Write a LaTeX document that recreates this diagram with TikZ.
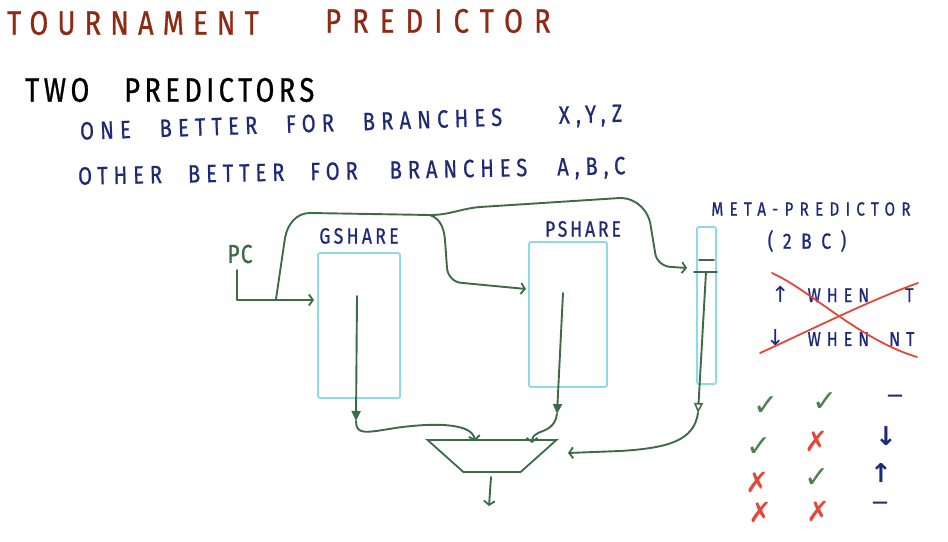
\documentclass[tikz,border=0pt]{standalone}
\usepackage{fontspec}
\usetikzlibrary{arrows.meta,shapes.geometric}
\newfontfamily\hand{Fira Sans}[FakeStretch=0.8,FakeBold=0.8]
\newfontfamily\sym{DejaVu Sans}
\definecolor{titlered}{HTML}{8E2A14}
\definecolor{navy}{HTML}{1E2A78}
\definecolor{wire}{HTML}{3D6B47}
\definecolor{boxcyan}{HTML}{8ADCE8}
\definecolor{crossred}{HTML}{E5463A}
\definecolor{okgreen}{HTML}{4E8050}
\newcommand\hw[3]{\hand\addfontfeatures{LetterSpace=#2}\fontsize{#1}{#1}\selectfont\spaceskip=#3\fontdimen2\font\relax}
\newcommand\symf[1]{\sym\fontsize{#1}{#1}\selectfont}
\begin{document}
\begin{tikzpicture}[x=1pt,y=-1pt,
  txt/.style={inner sep=0pt, anchor=west},
  lbl/.style={inner sep=0pt},
  membox/.style={draw=boxcyan, line width=1.8pt, rounded corners=2pt, inner sep=0pt},
  wireline/.style={draw=wire, line width=1.9pt, line cap=round, line join=round},
  chev/.style={wireline, -{Straight Barb[length=4pt,width=11pt,line width=1.8pt]}},
  fulltip/.style={wireline, -{Triangle[length=10pt,width=9pt]}},
  opentip/.style={wireline, -{Triangle[open,length=10pt,width=9pt,line width=1.5pt]}},
  crossline/.style={draw=crossred, line width=1.8pt, line cap=round},
  ok/.style={lbl, text=okgreen, font=\symf{30}},
  bad/.style={lbl, text=crossred, font=\symf{28}},
  navymark/.style={lbl, text=navy, font={\symf{26}\bfseries}},
  navydash/.style={lbl, text=navy, font={\symf{16}\bfseries}}
]
\useasboundingbox (0,0) rectangle (948,541);

% ---- texts
\node[txt, text=titlered, font=\hw{34}{27}{1}] (t1) at (7,23) {TOURNAMENT};
\node[txt, text=titlered, font=\hw{34}{33}{1}] (t2) at (325,21) {PREDICTOR};
\node[txt, text=black, font=\hw{34}{13}{3}] (l1) at (25,90) {TWO PREDICTORS};
\node[txt, text=navy, font=\hw{25}{25}{2.5}, rotate=1.9] (l2) at (80,133) {ONE BETTER FOR BRANCHES\hspace{28pt} X,Y,Z};
\node[txt, text=navy, font=\hw{25}{24}{2.3}, rotate=1.1] (l3) at (78,178) {OTHER BETTER FOR\hspace{6pt} BRANCHES\hspace{4pt} A,B,C};

\node[lbl, text=wire, font=\hw{26}{5}{1}] (pc) at (240,254) {PC};
\node[lbl, text=navy, font=\hw{22}{15}{1}] (gl) at (359,236) {GSHARE};
\node[lbl, text=navy, font=\hw{22}{13}{1}] (pl) at (583,229) {PSHARE};
\node[lbl, text=navy, font=\hw{19}{33}{1}] (ml) at (811,209) {META-PREDICTOR};
\node[lbl, text=navy, font=\hw{22}{43}{1}] (mc) at (807,241) {(2BC)};
\node[txt, text=navy, font=\hw{20}{30}{1}] (w1) at (771,294) {{\symf{22}↑}\hspace{18pt}WHEN\hspace{36pt}T};
\node[txt, text=navy, font=\hw{20}{30}{1}] (w2) at (766,338) {{\symf{22}↓}\hspace{23pt}WHEN\hspace{20pt}NT};

% ---- boxes
\node[membox, minimum width=82pt, minimum height=145pt] (gbox) at (359,325.5) {};
\node[membox, minimum width=78pt, minimum height=145pt] (pbox) at (568,314.5) {};
\node[membox, minimum width=19pt, minimum height=157pt] (mbox) at (706.5,305.5) {};
\node[trapezium, trapezium angle=58, trapezium stretches=true, minimum width=129pt,
      minimum height=32pt, shape border rotate=180, draw=wire, line width=1.8pt] (mux) at (492,456) {};

% ---- coordinates
\coordinate (pcs) at (237,270);
\coordinate (pcj) at (276,299);
\coordinate (j2) at (430,215);
\coordinate (gin) at (314,300);
\coordinate (pin) at (526,289);
\coordinate (min) at (687,268);
\coordinate (gs) at (357,296);
\coordinate (gt) at (356,421);
\coordinate (ps) at (563,293);
\coordinate (pt) at (557,414);
\coordinate (ms) at (706,272);
\coordinate (mt) at (698,413);
\coordinate (mx1) at (475,441);
\coordinate (mx2) at (532,443);
\coordinate (mx3) at (568,453);
\coordinate (mo1) at (491,477);
\coordinate (mo2) at (489,506);

% ---- meta-predictor entry lines
\draw[wireline] ([xshift=3pt]mbox.west |- 0,260) -- ([xshift=-3pt]mbox.east |- 0,260);
\draw[wireline] ([xshift=-2pt]mbox.west |- 0,272) -- (mbox.east |- 0,272);

% ---- connectors
\draw[chev] (pcs) |- (gin);
\draw[wireline] (pcj) -- (285,238) to[out=80,in=180] (310,213) -- (j2);
\draw[chev] (j2) to[out=0,in=185] (480,207) -- (620,198) to[out=0,in=95] (651,228)
   -- (655,252) to[out=-85,in=180] (672,267) -- (min);
\draw[chev] (j2) to[out=-20,in=95] (445,240) -- (447,268) to[out=-85,in=180] (463,283) -- (pin);
\draw[fulltip] (gs) -- (gt);
\draw[fulltip] (ps) -- (pt);
\draw[opentip] (ms) -- (mt);
\draw[chev] (gt) .. controls (356,435) and (365,433) .. (395,428) .. controls (430,423) and (472,422) .. (mx1);
\draw[chev] (pt) .. controls (555,428) and (545,430) .. (538,433) .. controls (533,436) and (532,438) .. (mx2);
\draw[chev] (mt) .. controls (694,440) and (670,448) .. (620,451) -- (mx3);
\draw[chev] (mo1) -- (mo2);

% ---- crossed-out rule
\draw[crossline] (772,273) .. controls (810,290) and (860,340) .. (917,357);
\draw[crossline] (760,353) .. controls (800,335) and (870,300) .. (918,283);

% ---- outcome table
\node[ok]  (c11) at (766,406) {✓};
\node[ok]  (c12) at (825,402) {✓};
\node[navydash] (c13) at (895,398) {—};
\node[ok]  (c21) at (759,447) {✓};
\node[bad] (c22) at (816,441) {✗};
\node[navymark] (c23) at (886,436) {↓};
\node[bad] (c31) at (757,482) {✗};
\node[ok]  (c32) at (817,478) {✓};
\node[navymark] (c33) at (881,473) {↑};
\node[bad] (c41) at (760,512) {✗};
\node[bad] (c42) at (818,511) {✗};
\node[navydash] (c43) at (880,505) {—};
\end{tikzpicture}
\end{document}
